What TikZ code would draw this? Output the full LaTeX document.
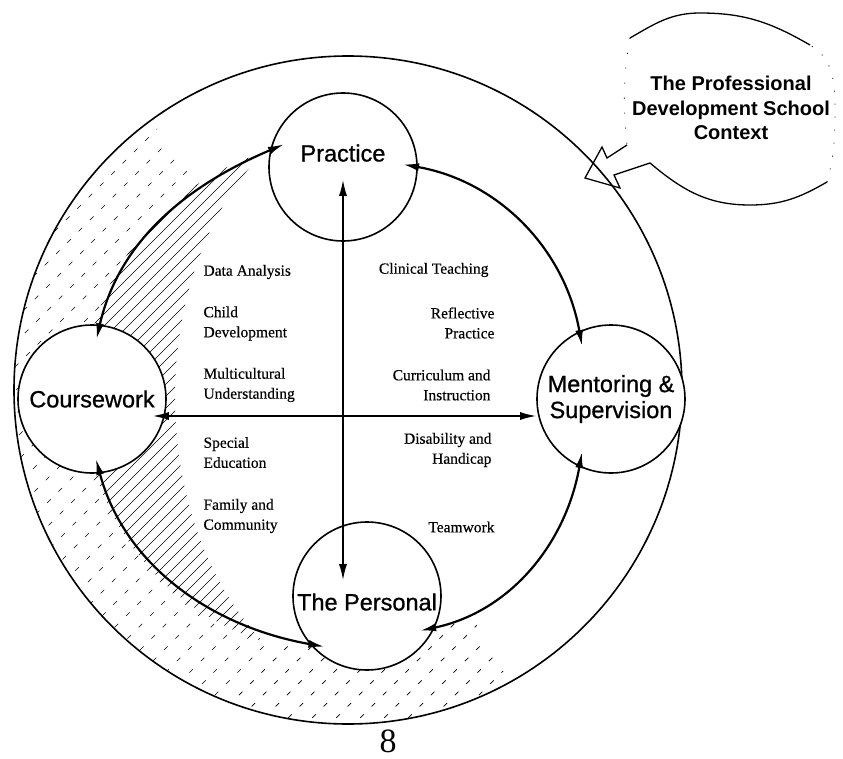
\documentclass[tikz,border=0pt]{standalone}
\usepackage{fontspec}
\setmainfont{Liberation Serif}
\newfontfamily\topicfont[FakeBold=0.8]{Liberation Sans}
\newfontfamily\calloutfont{Liberation Sans}
\newfontfamily\strandfont[FakeBold=0.4]{Liberation Serif}
\usetikzlibrary{positioning,arrows.meta}

\tikzset{
  topic/.style={circle,draw,fill=white,line width=1.6pt,minimum size=148pt,inner sep=0pt,
    align=center,font=\topicfont\fontsize{23.5}{26}\selectfont},
  ring/.style={<->,line width=2.2pt,looseness=0.92,shorten <=-15pt,shorten >=-15pt},
  link/.style={<->,line width=1.6pt},
  strandl/.style={align=left,anchor=west,font=\strandfont\fontsize{15.5}{20}\selectfont},
  strandr/.style={align=right,anchor=east,font=\strandfont\fontsize{15.5}{20}\selectfont},
  bandhatch/.style={line width=0.7pt,dash pattern=on 5pt off 11pt},
  creshatch/.style={line width=0.6pt},
}

\begin{document}
\begin{tikzpicture}[x=1pt,y=1pt,>={Latex[length=16pt,width=8pt]}]
\useasboundingbox (-345,-361) rectangle (498,397);
\coordinate (hub) at (0,0);

% hatched band on the left, between context ring and inner ring
\begin{scope}
  \clip (0,0) -- (125:600) -- (180:600) -- (270:600) -- (300:600) -- cycle;
  \clip (3,7) ++(0:334) arc (0:360:334) (-5,0) ++(0:252) arc (360:0:252);
  \foreach \k in {-720,-696,...,720}
    \draw[bandhatch] (\k-400,-400) -- (\k+400,400);
\end{scope}
% hatched crescent inside the ring
\begin{scope}
  \clip (-5,0) circle (256);
  \clip (40,0) ++(0:800) arc (0:360:800)
        (40,0) ++(210,0) arc[start angle=360,end angle=0,x radius=210,y radius=300];
  \foreach \k in {-720,-708,...,720}
    \draw[creshatch] (\k-400,-400) -- (\k+400,400);
\end{scope}

% school context
\draw[line width=1.6pt] (3,7) circle (334);

\node[topic, text depth=28pt] (practice) at (-2,230) {Practice};
\node[topic] (coursework) at (-253,-2) {Coursework};
\node[topic] (mentoring) at (266,-2) {Mentoring \&\\Supervision};
\node[topic, text height=29pt] (personal) at (22,-199) {The Personal};

\draw[ring] (coursework.84) to[out=77,in=203] (practice.167);
\draw[ring] (practice.0) to[out=-10,in=100] (mentoring.115);
\draw[ring] (mentoring.245) to[out=260,in=12] (personal.335);
\draw[ring] (personal.220) to[out=170,in=285] (coursework.276);

\draw[link, shorten <=-62pt, shorten >=-59pt] (practice.south) -- (practice.south |- personal.north);
\draw[link, shorten <=-14pt] ([yshift=-17pt]coursework.east) -- ([yshift=-17pt]mentoring.west);

% strands, left half
\node[strandl] (data)   at (-145,125)   {Data Analysis};
\node[strandl] (child)  at (-145,73.5)  {Child\\Development};
\node[strandl] (multi)  at (-145,12)    {Multicultural\\Understanding};
\node[strandl] (special) at (-145,-55.5) {Special\\Education};
\node[strandl] (family) at (-145,-119)  {Family and\\Community};
% strands, right half
\node[strandr] (clinical) at (147,127)  {Clinical Teaching};
\node[strandr] (reflect)  at (153,74)   {Reflective\\Practice};
\node[strandr] (curric)   at (149,12)   {Curriculum and\\Instruction};
\node[strandr] (disab)    at (150,-53)  {Disability and\\Handicap};
\node[strandr] (team)     at (153,-130) {Teamwork};

% callout
\draw[line width=1.3pt] (282,252) -- (262,239) -- (257,250) -- (240,219) -- (275,209) -- (269,222)
  -- (305,234) to[out=-40,in=180] (405,192) to[out=0,in=210] (482,215);
\draw[line width=1.3pt] (465,352) to[out=150,in=0] (355,384) to[out=180,in=30] (285,359);
\draw[line width=0.8pt,dash pattern=on 1pt off 12pt] (482,215) to[out=75,in=-90] (490,287)
  to[out=90,in=-30] (465,352);
\draw[line width=0.8pt,dash pattern=on 1pt off 14pt] (285,359) to[out=-100,in=95] (282,252);
\node[align=center,font=\calloutfont\bfseries\fontsize{20}{24.5}\selectfont] (context) at (386,289)
  {The Professional\\Development School\\Context};

\node[font=\fontsize{34}{34}\selectfont] (page) at (43,-344) {8};
\end{tikzpicture}
\end{document}
